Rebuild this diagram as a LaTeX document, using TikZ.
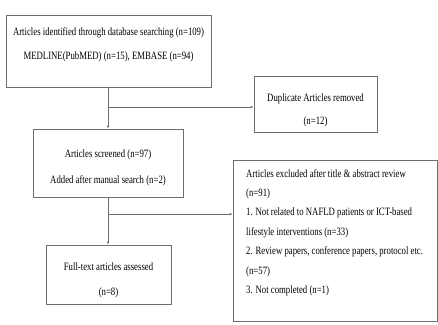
\documentclass[tikz,border=0pt]{standalone}
\usepackage{fontspec}
\setmainfont{Liberation Serif}[FakeStretch=0.78]
\usetikzlibrary{arrows.meta}
\definecolor{edge}{RGB}{110,110,110}
\tikzset{
  box/.style={draw=edge, line width=0.7pt, rectangle, inner sep=0pt},
  txt/.style={font=\fontsize{11.2}{12}\selectfont, inner sep=0pt, anchor=center},
  ltxt/.style={font=\fontsize{11.2}{12}\selectfont, inner sep=0pt, anchor=west},
  conn/.style={draw=edge, line width=0.7pt},
  arr/.style={conn, -{Latex[length=3pt,width=2.4pt]}}
}
\begin{document}
\begin{tikzpicture}[x=1pt,y=-1pt]
\useasboundingbox (0,0) rectangle (438,324);
% boxes
\node[box, minimum width=205pt, minimum height=72pt] (b1) at (108.5,51) {};
\node[box, minimum width=123pt, minimum height=56pt] (dup) at (315.5,104) {};
\node[box, minimum width=150pt, minimum height=68pt] (b2) at (108,163) {};
\node[box, minimum width=204pt, minimum height=161pt] (ex) at (335,240.5) {};
\node[box, minimum width=125pt, minimum height=59pt] (b3) at (108.5,274.5) {};
% texts
\node[txt] (t1a) at (108.5,33) {Articles identified through database searching (n=109)};
\node[txt] (t1b) at (108.5,57) {MEDLINE(PubMED) (n=15), EMBASE (n=94)};
\node[txt] (tda) at (315.5,99) {Duplicate Articles removed};
\node[txt] (tdb) at (315.5,122) {(n=12)};
\node[txt] (t2a) at (108,155) {Articles screened (n=97)};
\node[txt] (t2b) at (108,181) {Added after manual search (n=2)};
\node[txt] (t3a) at (108.5,267) {Full-text articles assessed};
\node[txt] (t3b) at (108.5,293) {(n=8)};
\node[ltxt] (e1) at (246,174) {Articles excluded after title \& abstract review};
\node[ltxt] (e2) at (246,193.5) {(n=91)};
\node[ltxt] (e3) at (246,213) {1. Not related to NAFLD patients or ICT-based};
\node[ltxt] (e4) at (246,232.5) {lifestyle interventions (n=33)};
\node[ltxt] (e5) at (246,252) {2. Review papers, conference papers, protocol etc.};
\node[ltxt] (e6) at (246,271.5) {(n=57)};
\node[ltxt] (e7) at (246,291) {3. Not completed (n=1)};
% connectors
\coordinate (j1) at (108,107);
\coordinate (j2) at (108,214);
\draw[arr] (b1.south -| j1) -- (b2.north -| j1);
\draw[arr] (j1) -- (j1 -| dup.west);
\draw[arr] (b2.south -| j2) -- (b3.north -| j2);
\draw[arr] (j2) -- (j2 -| ex.west);
\end{tikzpicture}
\end{document}
